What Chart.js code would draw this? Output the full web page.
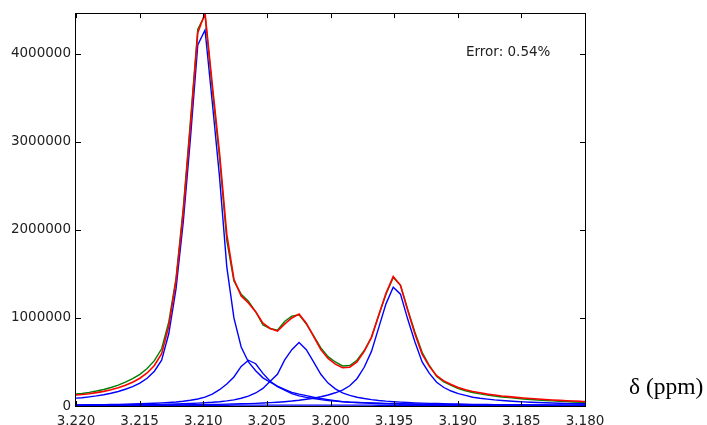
<!DOCTYPE html>
<html>
<head>
<meta charset="utf-8">
<script src="https://cdn.jsdelivr.net/npm/chart.js@4/dist/chart.umd.min.js"></script>
<style>
  html, body { margin: 0; padding: 0; background: #ffffff; }
  #wrap { width: 707px; height: 425px; position: relative; }
</style>
</head>
<body>
<div id="wrap"><canvas id="c" width="707" height="425"></canvas></div>
<script>
// Chemical shift (ppm) of each sample
const ppm = [3.22010, 3.21953, 3.21896, 3.21839, 3.21782, 3.21725, 3.21668, 3.21612, 3.21555, 3.21498,
  3.21441, 3.21384, 3.21327, 3.21271, 3.21214, 3.21157, 3.21100, 3.21043, 3.20986, 3.20929,
  3.20872, 3.20815, 3.20759, 3.20702, 3.20645, 3.20588, 3.20531, 3.20474, 3.20417, 3.20361,
  3.20304, 3.20247, 3.20190, 3.20133, 3.20076, 3.20019, 3.19962, 3.19906, 3.19849, 3.19792,
  3.19735, 3.19678, 3.19621, 3.19564, 3.19507, 3.19450, 3.19394, 3.19337, 3.19280, 3.19223,
  3.19166, 3.19109, 3.19052, 3.18996, 3.18939, 3.18882, 3.18825, 3.18768, 3.18711, 3.18654,
  3.18597, 3.18541, 3.18484, 3.18427, 3.18370, 3.18313, 3.18256, 3.18199, 3.18143, 3.18086,
  3.18029, 3.17972];

// Intensities, in millions
const measured = [0.135, 0.142, 0.155, 0.170, 0.188, 0.21, 0.237, 0.27, 0.31, 0.36,
  0.425, 0.515, 0.65, 0.955, 1.45, 2.25, 3.25, 4.28, 4.44, 3.60,
  2.82, 1.88, 1.42, 1.27, 1.19, 1.07, 0.92, 0.88, 0.86, 0.96,
  1.02, 1.035, 0.93, 0.80, 0.66, 0.56, 0.50, 0.455, 0.46, 0.52,
  0.63, 0.78, 1.03, 1.27, 1.46, 1.37, 1.10, 0.84, 0.61, 0.46,
  0.335, 0.275, 0.233, 0.198, 0.173, 0.153, 0.138, 0.124, 0.113, 0.103,
  0.095, 0.087, 0.08, 0.074, 0.068, 0.063, 0.058, 0.054, 0.05, 0.046,
  0.043, 0.041];

const fitTotal = [0.125, 0.130, 0.140, 0.152, 0.166, 0.185, 0.207, 0.235, 0.27, 0.315,
  0.375, 0.46, 0.595, 0.905, 1.42, 2.20, 3.19, 4.24, 4.46, 3.65,
  2.87, 1.95, 1.44, 1.25, 1.17, 1.07, 0.94, 0.88, 0.85, 0.93,
  1.00, 1.045, 0.94, 0.79, 0.64, 0.54, 0.475, 0.435, 0.44, 0.50,
  0.62, 0.78, 1.03, 1.28, 1.47, 1.37, 1.09, 0.82, 0.59, 0.45,
  0.345, 0.285, 0.245, 0.21, 0.185, 0.165, 0.15, 0.135, 0.125, 0.114,
  0.106, 0.098, 0.091, 0.085, 0.079, 0.074, 0.069, 0.064, 0.06, 0.056,
  0.052, 0.05];

const peak3210 = [0.088, 0.094, 0.104, 0.115, 0.128, 0.145, 0.165, 0.19, 0.22, 0.26,
  0.315, 0.395, 0.52, 0.82, 1.33, 2.09, 3.05, 4.10, 4.27, 3.45,
  2.60, 1.58, 1.00, 0.67, 0.50, 0.40, 0.32, 0.27, 0.225, 0.19,
  0.155, 0.135, 0.118, 0.10, 0.085, 0.072, 0.06, 0.05, 0.044, 0.04,
  0.037, 0.034, 0.031, 0.029, 0.027, 0.025, 0.023, 0.022, 0.021, 0.02,
  0.019, 0.018, 0.017, 0.016, 0.015, 0.014, 0.014, 0.013, 0.013, 0.012,
  0.012, 0.011, 0.011, 0.010, 0.010, 0.010, 0.009, 0.009, 0.009, 0.008,
  0.008, 0.008];

const peak3206 = [0.012, 0.013, 0.014, 0.015, 0.016, 0.018, 0.019, 0.021, 0.023, 0.025,
  0.028, 0.031, 0.035, 0.04, 0.046, 0.054, 0.065, 0.08, 0.10, 0.135,
  0.185, 0.25, 0.33, 0.45, 0.52, 0.48, 0.37, 0.28, 0.22, 0.18,
  0.14, 0.115, 0.098, 0.085, 0.073, 0.063, 0.055, 0.048, 0.043, 0.039,
  0.035, 0.032, 0.029, 0.027, 0.025, 0.023, 0.021, 0.019, 0.018, 0.017,
  0.016, 0.015, 0.014, 0.013, 0.012, 0.012, 0.011, 0.011, 0.010, 0.010,
  0.009, 0.009, 0.009, 0.008, 0.008, 0.008, 0.007, 0.007, 0.007, 0.007,
  0.006, 0.006];

const peak3202 = [0.008, 0.009, 0.009, 0.010, 0.010, 0.011, 0.012, 0.013, 0.014, 0.015,
  0.016, 0.017, 0.019, 0.021, 0.023, 0.026, 0.029, 0.033, 0.037, 0.042,
  0.049, 0.058, 0.07, 0.088, 0.112, 0.148, 0.20, 0.28, 0.36, 0.52,
  0.64, 0.72, 0.64, 0.50, 0.36, 0.26, 0.195, 0.15, 0.12, 0.10,
  0.085, 0.073, 0.063, 0.055, 0.049, 0.044, 0.04, 0.036, 0.033, 0.03,
  0.028, 0.026, 0.024, 0.022, 0.021, 0.019, 0.018, 0.017, 0.016, 0.015,
  0.014, 0.013, 0.013, 0.012, 0.011, 0.011, 0.010, 0.010, 0.009, 0.009,
  0.009, 0.008];

const peak3195 = [0.006, 0.006, 0.007, 0.007, 0.007, 0.007, 0.008, 0.008, 0.008, 0.009,
  0.009, 0.010, 0.010, 0.011, 0.012, 0.013, 0.014, 0.015, 0.016, 0.017,
  0.019, 0.021, 0.023, 0.025, 0.027, 0.03, 0.034, 0.038, 0.043, 0.049,
  0.056, 0.065, 0.076, 0.088, 0.105, 0.125, 0.15, 0.18, 0.23, 0.31,
  0.44, 0.62, 0.89, 1.16, 1.35, 1.27, 0.99, 0.73, 0.50, 0.37,
  0.27, 0.21, 0.17, 0.14, 0.12, 0.10, 0.088, 0.078, 0.069, 0.062,
  0.056, 0.051, 0.047, 0.043, 0.04, 0.037, 0.034, 0.032, 0.03, 0.028,
  0.026, 0.025];

const baselineComp = [0.006, 0.006, 0.006, 0.007, 0.007, 0.007, 0.007, 0.008, 0.008, 0.008,
  0.008, 0.008, 0.009, 0.009, 0.009, 0.009, 0.009, 0.009, 0.009, 0.009,
  0.009, 0.009, 0.010, 0.010, 0.010, 0.010, 0.010, 0.010, 0.010, 0.010,
  0.010, 0.010, 0.010, 0.010, 0.010, 0.010, 0.010, 0.010, 0.010, 0.010,
  0.010, 0.010, 0.009, 0.009, 0.009, 0.009, 0.009, 0.009, 0.009, 0.009,
  0.009, 0.009, 0.008, 0.008, 0.008, 0.008, 0.008, 0.008, 0.008, 0.008,
  0.008, 0.008, 0.007, 0.007, 0.007, 0.007, 0.007, 0.007, 0.006, 0.006,
  0.006, 0.006];

const xTickValues = [3.220, 3.215, 3.210, 3.205, 3.200, 3.195, 3.190, 3.185, 3.180];
const xTickLabels = ["3.220", "3.215", "3.210", "3.205", "3.200", "3.195", "3.190", "3.185", "3.180"];
const yTickValues = [0, 1, 2, 3, 4];            // millions
const yTickLabels = ["0", "1000000", "2000000", "3000000", "4000000"];
const xRange = [3.180, 3.220];
const yRange = [0, 4.462];
const errorText = "Error: 0.54%";
const axisTitle = "δ (ppm)";

const toPoints = arr => ppm.map((x, i) => ({ x: x, y: arr[i] }));
const tickFont = { family: "DejaVu Sans", size: 13.5 };

const frameAndText = {
  id: 'frameAndText',
  afterDraw(chart) {
    const ctx = chart.ctx;
    const a = chart.chartArea;
    const xs = chart.scales.x, ys = chart.scales.y;
    ctx.save();
    ctx.strokeStyle = '#000000';
    ctx.lineWidth = 1;
    ctx.strokeRect(Math.round(a.left) - 0.5, Math.round(a.top) + 0.5,
                   Math.round(a.right - a.left) + 1, Math.round(a.bottom - a.top));
    const tl = 5;
    ctx.beginPath();
    xTickValues.forEach(v => {
      const px = Math.round(xs.getPixelForValue(v)) + 0.5;
      ctx.moveTo(px, a.bottom); ctx.lineTo(px, a.bottom - tl);
      ctx.moveTo(px, a.top); ctx.lineTo(px, a.top + tl);
    });
    yTickValues.forEach(v => {
      const py = Math.round(ys.getPixelForValue(v)) + 0.5;
      ctx.moveTo(a.left, py); ctx.lineTo(a.left + tl, py);
      ctx.moveTo(a.right, py); ctx.lineTo(a.right - tl, py);
    });
    ctx.stroke();
    ctx.fillStyle = '#222222';
    ctx.font = '13.5px "DejaVu Sans"';
    ctx.textAlign = 'left';
    ctx.textBaseline = 'alphabetic';
    ctx.fillText(errorText, 466, 56);
    ctx.fillStyle = '#000000';
    ctx.font = '23.5px "Liberation Serif"';
    ctx.fillText(axisTitle, 629, 394);
    ctx.restore();
  }
};

const blueStyle = { borderColor: '#0000ff', borderWidth: 1.4, pointRadius: 0, tension: 0, fill: false, order: 2 };

new Chart(document.getElementById('c'), {
  type: 'line',
  data: {
    datasets: [
      { label: 'fit', data: toPoints(fitTotal), borderColor: '#ff0000', borderWidth: 1.6, pointRadius: 0, tension: 0, fill: false, order: 0 },
      { label: 'measured', data: toPoints(measured), borderColor: '#008000', borderWidth: 1.4, pointRadius: 0, tension: 0, fill: false, order: 1 },
      Object.assign({ label: 'peak 3.2098', data: toPoints(peak3210) }, blueStyle),
      Object.assign({ label: 'peak 3.2065', data: toPoints(peak3206) }, blueStyle),
      Object.assign({ label: 'peak 3.2025', data: toPoints(peak3202) }, blueStyle),
      Object.assign({ label: 'peak 3.1951', data: toPoints(peak3195) }, blueStyle),
      Object.assign({ label: 'baseline', data: toPoints(baselineComp) }, blueStyle)
    ]
  },
  options: {
    responsive: false,
    animation: false,
    layout: { padding: { top: 12, right: 122, left: 0, bottom: 0 } },
    plugins: { legend: { display: false }, tooltip: { enabled: false } },
    scales: {
      x: {
        type: 'linear',
        reverse: true,
        min: xRange[0],
        max: xRange[1],
        grid: { display: false, drawTicks: false },
        border: { display: false },
        afterBuildTicks: s => { s.ticks = xTickValues.map(v => ({ value: v })); },
        afterFit: s => { s.height = 19; },
        ticks: {
          autoSkip: false, maxRotation: 0, minRotation: 0, padding: 7,
          color: '#222222', font: tickFont,
          callback: (v, i) => xTickLabels[i]
        }
      },
      y: {
        type: 'linear',
        min: yRange[0],
        max: yRange[1],
        grid: { display: false, drawTicks: false },
        border: { display: false },
        afterBuildTicks: s => { s.ticks = yTickValues.map(v => ({ value: v })); },
        afterFit: s => { s.width = 76; },
        ticks: {
          autoSkip: false, padding: 5,
          color: '#222222', font: tickFont,
          callback: (v, i) => yTickLabels[i]
        }
      }
    }
  },
  plugins: [frameAndText]
});
</script>
</body>
</html>
